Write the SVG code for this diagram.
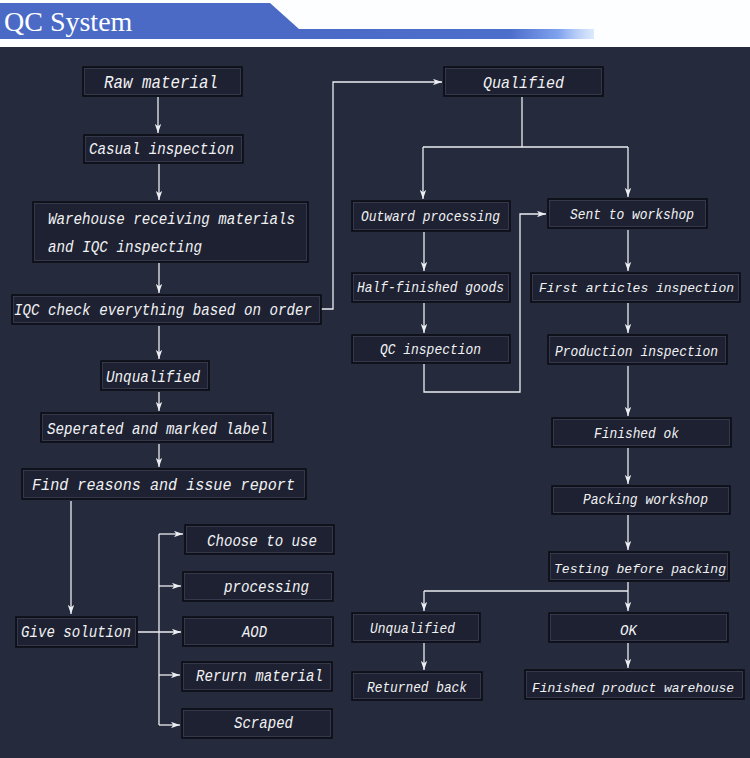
<svg xmlns="http://www.w3.org/2000/svg" width="750" height="758" viewBox="0 0 750 758">
<defs>
<style>
.box{fill:#1d2131;stroke:#0c0e16;stroke-width:1.6}
.edge{fill:none;stroke:#3f4456;stroke-width:0.7}
.t{font-family:"Liberation Mono","DejaVu Sans Mono",monospace;font-style:italic;font-size:16.3px;fill:#f2f2f4}
.r{font-size:15px}
.s{font-size:13.4px}
.c{fill:none;stroke:#eceef2;stroke-width:1.3}
</style>
<marker id="ah" viewBox="0 0 10 7" refX="10" refY="3.5" markerWidth="9" markerHeight="6.3" markerUnits="userSpaceOnUse" orient="auto">
<path d="M0,0 L10,3.5 L0,7 L2.5,3.5 z" fill="#eceef2"/>
</marker>
<linearGradient id="barg" x1="0" y1="0" x2="1" y2="0">
<stop offset="0" stop-color="#4a6ac6"/>
<stop offset="0.72" stop-color="#4d6fcc"/>
<stop offset="0.88" stop-color="#7fa2ee"/>
<stop offset="1" stop-color="#c8dcfb" stop-opacity="0.6"/>
</linearGradient>
</defs>
<rect x="0" y="0" width="750" height="758" fill="#252a3c"/>
<rect x="0" y="0" width="750" height="47" fill="#fdfeff"/>
<polygon points="0,3 270,3 299,29 299,39 0,39" fill="#4a6ac6"/>
<rect x="296" y="29" width="298" height="10" fill="url(#barg)"/>
<text x="4" y="31" font-family="Liberation Serif,serif" font-size="28" fill="#ffffff">QC System</text>

<g id="connectors">
<path class="c" d="M158,97 V133" marker-end="url(#ah)"/>
<path class="c" d="M159,164 V200" marker-end="url(#ah)"/>
<path class="c" d="M159,263 V293" marker-end="url(#ah)"/>
<path class="c" d="M321,309 H333 V82 H442" marker-end="url(#ah)"/>
<path class="c" d="M159,326 V359" marker-end="url(#ah)"/>
<path class="c" d="M159,392 V411" marker-end="url(#ah)"/>
<path class="c" d="M159,444 V467" marker-end="url(#ah)"/>
<path class="c" d="M71,501 V614" marker-end="url(#ah)"/>
<path class="c" d="M138,632 H181" marker-end="url(#ah)"/>
<path class="c" d="M159,534 V725"/>
<path class="c" d="M159,534 H183" marker-end="url(#ah)"/>
<path class="c" d="M159,586 H181" marker-end="url(#ah)"/>
<path class="c" d="M159,675 H180" marker-end="url(#ah)"/>
<path class="c" d="M159,725 H180" marker-end="url(#ah)"/>
<path class="c" d="M522,97 V147"/>
<path class="c" d="M423,147 H628"/>
<path class="c" d="M423,147 V199" marker-end="url(#ah)"/>
<path class="c" d="M628,147 V197" marker-end="url(#ah)"/>
<path class="c" d="M424,232 V271" marker-end="url(#ah)"/>
<path class="c" d="M424,303 V333" marker-end="url(#ah)"/>
<path class="c" d="M424,364 V392 H520 V214 H546" marker-end="url(#ah)"/>
<path class="c" d="M628,230 V271" marker-end="url(#ah)"/>
<path class="c" d="M628,303 V333" marker-end="url(#ah)"/>
<path class="c" d="M628,366 V416" marker-end="url(#ah)"/>
<path class="c" d="M628,448 V484" marker-end="url(#ah)"/>
<path class="c" d="M628,515 V550" marker-end="url(#ah)"/>
<path class="c" d="M628,582 V611" marker-end="url(#ah)"/>
<path class="c" d="M424,591 H628"/>
<path class="c" d="M424,591 V611" marker-end="url(#ah)"/>
<path class="c" d="M424,643 V670" marker-end="url(#ah)"/>
<path class="c" d="M628,643 V668" marker-end="url(#ah)"/>
</g>

<g id="raw"><rect class="box" x="83" y="67" width="159" height="29"/><rect class="edge" x="84.5" y="68.5" width="156" height="26"/><text class="t" style="font-size:18px" x="104" y="88" textLength="114" lengthAdjust="spacingAndGlyphs">Raw material</text></g>
<g id="casual"><rect class="box" x="84" y="135" width="159" height="28"/><rect class="edge" x="85.5" y="136.5" width="156" height="25"/><text class="t" x="89" y="154" textLength="145" lengthAdjust="spacingAndGlyphs">Casual inspection</text></g>
<g id="warehouse"><rect class="box" x="33" y="202" width="275" height="60"/><rect class="edge" x="34.5" y="203.5" width="272" height="57"/><text class="t" x="48" y="224" textLength="247" lengthAdjust="spacingAndGlyphs">Warehouse receiving materials</text><text class="t" x="48" y="252" textLength="154" lengthAdjust="spacingAndGlyphs">and IQC inspecting</text></g>
<g id="iqc"><rect class="box" x="12" y="295" width="309" height="29"/><rect class="edge" x="13.5" y="296.5" width="306" height="26"/><text class="t" x="14" y="315" textLength="298" lengthAdjust="spacingAndGlyphs">IQC check everything based on order</text></g>
<g id="unq1"><rect class="box" x="101" y="361" width="108" height="29"/><rect class="edge" x="102.5" y="362.5" width="105" height="26"/><text class="t" x="106" y="382" textLength="94" lengthAdjust="spacingAndGlyphs">Unqualified</text></g>
<g id="separated"><rect class="box" x="41" y="413" width="232" height="29"/><rect class="edge" x="42.5" y="414.5" width="229" height="26"/><text class="t" x="47" y="434" textLength="221" lengthAdjust="spacingAndGlyphs">Seperated and marked label</text></g>
<g id="find"><rect class="box" x="22" y="469" width="284" height="30"/><rect class="edge" x="23.5" y="470.5" width="281" height="27"/><text class="t" style="font-size:17.3px" x="32" y="490" textLength="263" lengthAdjust="spacingAndGlyphs">Find reasons and issue report</text></g>
<g id="give"><rect class="box" x="16" y="617" width="121" height="30"/><rect class="edge" x="17.5" y="618.5" width="118" height="27"/><text class="t" x="21" y="637" textLength="110" lengthAdjust="spacingAndGlyphs">Give solution</text></g>
<g id="choose"><rect class="box" x="185" y="525" width="149" height="29"/><rect class="edge" x="186.5" y="526.5" width="146" height="26"/><text class="t" x="207" y="546" textLength="110" lengthAdjust="spacingAndGlyphs">Choose to use</text></g>
<g id="processing"><rect class="box" x="183" y="572" width="150" height="29"/><rect class="edge" x="184.5" y="573.5" width="147" height="26"/><text class="t" x="224" y="592" textLength="85" lengthAdjust="spacingAndGlyphs">processing</text></g>
<g id="aod"><rect class="box" x="183" y="617" width="150" height="29"/><rect class="edge" x="184.5" y="618.5" width="147" height="26"/><text class="t" x="242" y="637" textLength="25" lengthAdjust="spacingAndGlyphs">AOD</text></g>
<g id="rerurn"><rect class="box" x="182" y="662" width="150" height="29"/><rect class="edge" x="183.5" y="663.5" width="147" height="26"/><text class="t" x="196" y="681" textLength="127" lengthAdjust="spacingAndGlyphs">Rerurn material</text></g>
<g id="scraped"><rect class="box" x="182" y="709" width="150" height="29"/><rect class="edge" x="183.5" y="710.5" width="147" height="26"/><text class="t" x="234" y="728" textLength="59" lengthAdjust="spacingAndGlyphs">Scraped</text></g>

<g id="qualified"><rect class="box" x="444" y="67" width="159" height="29"/><rect class="edge" x="445.5" y="68.5" width="156" height="26"/><text class="t" style="font-size:17px" x="483" y="88" textLength="81" lengthAdjust="spacingAndGlyphs">Qualified</text></g>
<g id="outward"><rect class="box" x="352" y="201" width="158" height="30"/><rect class="edge" x="353.5" y="202.5" width="155" height="27"/><text class="t r" x="361" y="221" textLength="139" lengthAdjust="spacingAndGlyphs">Outward processing</text></g>
<g id="sent"><rect class="box" x="548" y="199" width="159" height="29"/><rect class="edge" x="549.5" y="200.5" width="156" height="26"/><text class="t r" x="570" y="219" textLength="124" lengthAdjust="spacingAndGlyphs">Sent to workshop</text></g>
<g id="half"><rect class="box" x="352" y="273" width="158" height="29"/><rect class="edge" x="353.5" y="274.5" width="155" height="26"/><text class="t r" x="357" y="292" textLength="147" lengthAdjust="spacingAndGlyphs">Half-finished goods</text></g>
<g id="qcinsp"><rect class="box" x="352" y="335" width="158" height="28"/><rect class="edge" x="353.5" y="336.5" width="155" height="25"/><text class="t r" x="380" y="354" textLength="101" lengthAdjust="spacingAndGlyphs">QC inspection</text></g>
<g id="first"><rect class="box" x="531" y="273" width="209" height="29"/><rect class="edge" x="532.5" y="274.5" width="206" height="26"/><text class="t s" x="539" y="292" textLength="195" lengthAdjust="spacingAndGlyphs">First articles inspection</text></g>
<g id="production"><rect class="box" x="548" y="335" width="179" height="29"/><rect class="edge" x="549.5" y="336.5" width="176" height="26"/><text class="t r" x="555" y="356" textLength="163" lengthAdjust="spacingAndGlyphs">Production inspection</text></g>
<g id="finishedok"><rect class="box" x="552" y="418" width="179" height="29"/><rect class="edge" x="553.5" y="419.5" width="176" height="26"/><text class="t r" x="594" y="438" textLength="85" lengthAdjust="spacingAndGlyphs">Finished ok</text></g>
<g id="packing"><rect class="box" x="552" y="486" width="178" height="28"/><rect class="edge" x="553.5" y="487.5" width="175" height="25"/><text class="t r" x="583" y="504" textLength="125" lengthAdjust="spacingAndGlyphs">Packing workshop</text></g>
<g id="testing"><rect class="box" x="549" y="552" width="180" height="29"/><rect class="edge" x="550.5" y="553.5" width="177" height="26"/><text class="t s" x="554" y="573" textLength="172" lengthAdjust="spacingAndGlyphs">Testing before packing</text></g>
<g id="unq2"><rect class="box" x="352" y="613" width="128" height="29"/><rect class="edge" x="353.5" y="614.5" width="125" height="26"/><text class="t r" x="370" y="633" textLength="85" lengthAdjust="spacingAndGlyphs">Unqualified</text></g>
<g id="ok"><rect class="box" x="549" y="613" width="179" height="29"/><rect class="edge" x="550.5" y="614.5" width="176" height="26"/><text class="t r" x="620" y="635" textLength="17" lengthAdjust="spacingAndGlyphs">OK</text></g>
<g id="returned"><rect class="box" x="352" y="672" width="130" height="28"/><rect class="edge" x="353.5" y="673.5" width="127" height="25"/><text class="t r" x="367" y="692" textLength="100" lengthAdjust="spacingAndGlyphs">Returned back</text></g>
<g id="fpw"><rect class="box" x="525" y="670" width="219" height="29"/><rect class="edge" x="526.5" y="671.5" width="216" height="26"/><text class="t s" x="532" y="692" textLength="202" lengthAdjust="spacingAndGlyphs">Finished product warehouse</text></g>
</svg>
